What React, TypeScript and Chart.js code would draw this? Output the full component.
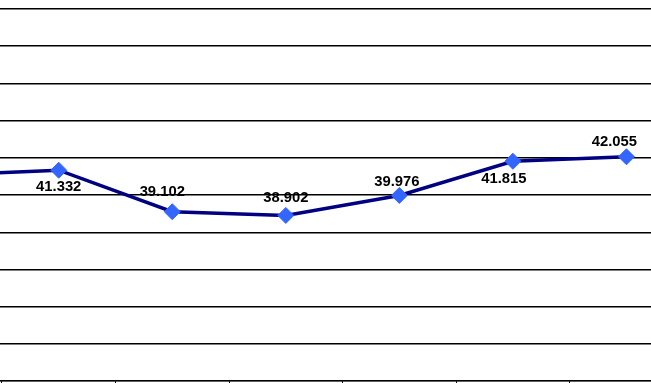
import React, { useEffect, useRef } from "react";
import { Chart, registerables } from "chart.js";

Chart.register(...registerables);

// Data (first point lies left of the visible crop)
const categories = ["P0", "P1", "P2", "P3", "P4", "P5", "P6"];
const values = [41.07, 41.332, 39.102, 38.902, 39.976, 41.815, 42.055];
const valueLabels = ["41.070", "41.332", "39.102", "38.902", "39.976", "41.815", "42.055"];
const yMin = 30;
const yMax = 50;
const yStep = 2;

// label offsets relative to each point (style, not data)
const LABEL_OFFSETS: [number, number][] = [
  [0, 15],
  [0, 15],
  [-10, -21.5],
  [0, -19],
  [-2.5, -15],
  [-9, 16],
  [-12, -16],
];

const labelPlugin = {
  id: "valueLabels",
  afterDatasetsDraw(chart: any) {
    const meta = chart.getDatasetMeta(0);
    const ctx = chart.ctx;
    ctx.save();
    ctx.font = "bold 14.8px 'Liberation Sans', Arial, sans-serif";
    ctx.fillStyle = "#000000";
    ctx.textAlign = "center";
    ctx.textBaseline = "alphabetic";
    meta.data.forEach((pt: any, i: number) => {
      const [dx, dy] = LABEL_OFFSETS[i] || [0, -15];
      ctx.fillText(valueLabels[i], pt.x + dx, pt.y + dy + 5.3);
    });
    ctx.restore();
  },
};

export default function App() {
  const ref = useRef<HTMLCanvasElement | null>(null);
  useEffect(() => {
    if (!ref.current) return;
    const chart = new Chart(ref.current, {
      type: "line",
      data: {
        labels: categories,
        datasets: [
          {
            data: values,
            borderColor: "#000080",
            borderWidth: 3.5,
            tension: 0,
            pointStyle: "rectRot",
            pointRadius: 8,
            pointBackgroundColor: "#3366FF",
            pointBorderColor: "#3366FF",
            pointBorderWidth: 1,
            fill: false,
          },
        ],
      },
      options: {
        animation: false,
        responsive: false,
        devicePixelRatio: 1,
        layout: { padding: { left: 88.4, right: 116.8, top: 8, bottom: 15 } },
        plugins: { legend: { display: false }, tooltip: { enabled: false } },
        scales: {
          x: {
            type: "category",
            offset: true,
            ticks: { display: false },
            grid: {
              offset: true,
              drawOnChartArea: false,
              drawTicks: true,
              tickLength: 4,
              color: "#000000",
              lineWidth: 1,
            },
            border: { display: true, color: "#000000", width: 1.3 },
          },
          y: {
            min: yMin,
            max: yMax,
            ticks: { display: false, stepSize: yStep },
            grid: { drawTicks: false, color: "#000000", lineWidth: 1.4 },
            border: { display: false },
          },
        },
      },
      plugins: [labelPlugin],
    });
    return () => chart.destroy();
  }, []);
  return (
    <div
      style={{
        position: "fixed",
        left: 0,
        top: 0,
        width: 651,
        height: 383,
        overflow: "hidden",
        background: "#ffffff",
      }}
    >
      <canvas
        ref={ref}
        width={1000}
        height={400}
        style={{ position: "absolute", left: -200, top: 0, width: 1000, height: 400 }}
      />
    </div>
  );
}
